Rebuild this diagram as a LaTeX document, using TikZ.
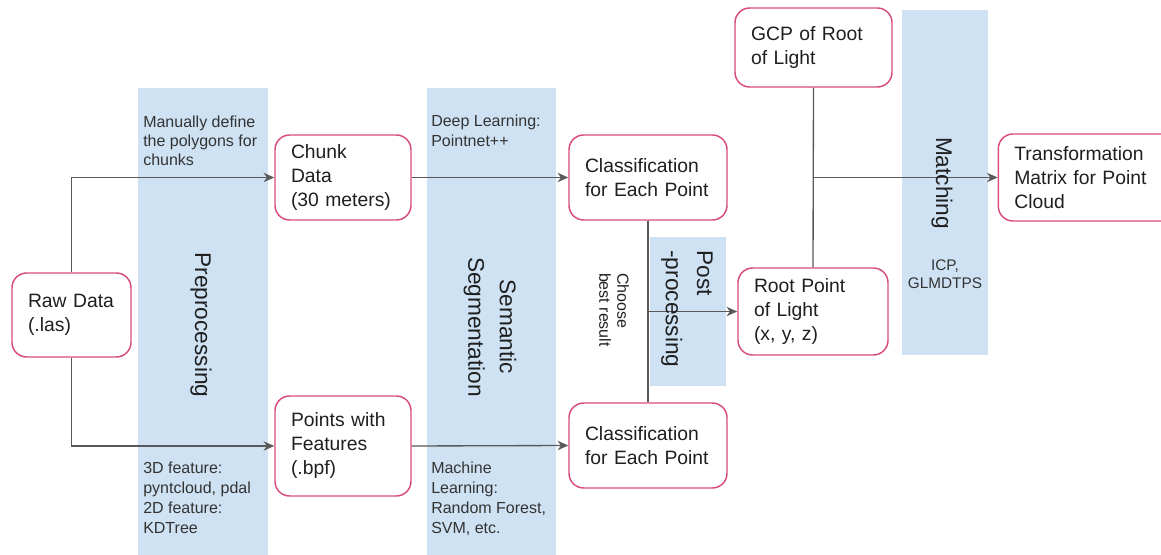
\documentclass[tikz,border=0pt]{standalone}
\usepackage{fontspec}
\setmainfont{Liberation Sans}
\usetikzlibrary{arrows.meta}
\definecolor{lanec}{HTML}{CFE2F3}
\definecolor{boxc}{HTML}{D84C7E}
\definecolor{linec}{HTML}{595959}
\definecolor{txtc}{HTML}{1F1F1F}
\definecolor{smallc}{HTML}{333333}
\tikzset{
  lane/.style={fill=lanec},
  procbox/.style n args={3}{draw=boxc, line width=1.1pt, fill=white, rounded corners=11pt,
    minimum width=#1, minimum height=#2, text width=#3, align=left, inner xsep=12pt, inner ysep=0pt,
    text=txtc, font=\fontsize{14.5pt}{18pt}\selectfont},
  conn/.style={draw=linec, line width=1pt},
  arr/.style={conn, -{Stealth[length=8pt,width=7pt,inset=2.5pt]}},
  biglabel/.style={rotate=-90, text=txtc, font=\fontsize{17pt}{23.5pt}\selectfont, inner sep=0pt},
  note/.style={text=smallc, font=\fontsize{12pt}{14.5pt}\selectfont, align=left, inner sep=0pt, anchor=base west},
}
\begin{document}
\begin{tikzpicture}[x=0.75pt, y=-0.75pt]
\useasboundingbox (0,0) rectangle (1161,555);
% lanes
\fill[lane] (138,88) rectangle (268,555);
\fill[lane] (427,88) rectangle (556,555);
\fill[lane] (650,237) rectangle (726,386);
\fill[lane] (902,10) rectangle (988,355);
% boxes
\node[procbox={89.25pt}{63pt}{65.25pt}] (raw) at (71.5,315) {Raw Data\\(.las)};
\node[procbox={102pt}{63.75pt}{78pt}] (chunk) at (343,177.5) {Chunk\\Data\\(30 meters)};
\node[procbox={102pt}{75pt}{78pt}] (pts) at (343,446) {Points with\\Features\\(.bpf)};
\node[procbox={118.5pt}{63.75pt}{94.5pt}] (cls1) at (648,177.5) {Classification\\for Each Point};
\node[procbox={118.5pt}{63.75pt}{94.5pt}] (cls2) at (648,445.5) {Classification\\for Each Point};
\node[procbox={117.75pt}{59.25pt}{93.75pt}] (gcp) at (813.5,47.5) {GCP of Root\\of Light};
\node[procbox={112.5pt}{65.25pt}{88.5pt}] (root) at (813,311.5) {Root Point\\of Light\\(x, y, z)};
\node[procbox={132pt}{65.25pt}{109pt}] (trans) at (1087,177.5) {Transformation\\Matrix for Point\\Cloud};
% connectors
\draw[arr] (raw.north) |- (chunk.west);
\draw[arr] (raw.south) |- (pts.west);
\draw[arr] (chunk.east) -- (cls1.west);
\draw[arr] (pts.east) -- (cls2.west);
\draw[conn] (cls1.south) -- (cls2.north);
\coordinate (pm) at (cls1.south |- root.west);
\draw[arr] (pm) -- (root.west);
\draw[conn] (gcp.south) -- (root.north);
\coordinate (mm) at (gcp.south |- trans.west);
\draw[arr] (mm) -- (trans.west);
% lane labels
\node[biglabel] (lpre) at (201,325) {Preprocessing};
\node[biglabel, align=center] (lsem) at (490,327) {Semantic\\Segmentation};
\node[biglabel, align=left] (lpost) at (687,309) {Post\\-processing};
\node[biglabel] (lmatch) at (942,183) {Matching};
\node[rotate=-90, text=txtc, font=\fontsize{12pt}{13.5pt}\selectfont, align=left, inner sep=0pt] (lchoose) at (614,310) {Choose\\best result};
% notes
\node[note] (n1) at (143,165.7) {Manually define\\the polygons for\\chunks};
\node[note] (n2) at (431,146.3) {Deep Learning:\\Pointnet++};
\node[note, font=\fontsize{12pt}{15pt}\selectfont] (n3) at (143,533.5) {3D feature:\\pyntcloud, pdal\\2D feature:\\KDTree};
\node[note, font=\fontsize{12pt}{15pt}\selectfont] (n4) at (431,533.5) {Machine\\Learning:\\Random Forest,\\SVM, etc.};
\node[text=smallc, font=\fontsize{11.5pt}{14pt}\selectfont, align=center, inner sep=0pt, anchor=base] (n5) at (945,288.7) {ICP,\\GLMDTPS};
\end{tikzpicture}
\end{document}
